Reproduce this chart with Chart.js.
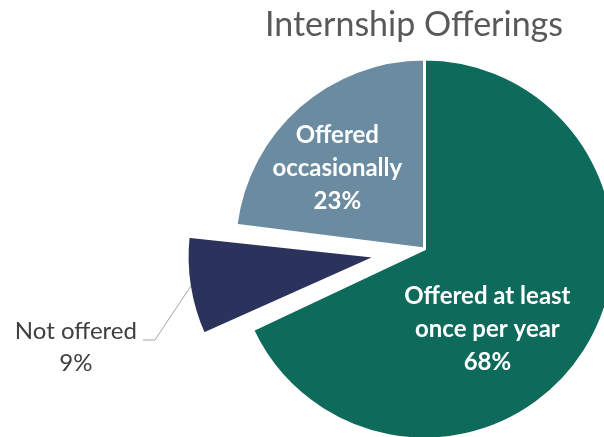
<!DOCTYPE html>
<html><head><meta charset="utf-8">
<script src="https://cdn.jsdelivr.net/npm/chart.js@4/dist/chart.umd.min.js"></script>
<style>html,body{margin:0;padding:0;background:#fff;overflow:hidden}#wrap{width:604px;height:437px;position:relative}</style>
</head><body><div id="wrap"><canvas id="c" width="604" height="437"></canvas></div>
<script>
const titleText = 'Internship Offerings';
const categories = ['Offered at least once per year', 'Not offered', 'Offered occasionally'];
const labelLines = [['Offered at least', 'once per year'], ['Not offered'], ['Offered', 'occasionally']];
const values = [68, 9, 23];
const colors = ['#0e6a5a', '#2b325b', '#6b8ca0'];
const explodedCategory = 'Not offered';

const FONT = 'Lato';
const DEG = Math.PI / 180;
// label placement styles (not data)
const labelStyles = [
  { kind: 'inside', angleShift: 19.6 * DEG, rFrac: 0.538, color: '#ffffff', weight: 'bold', size: 24, lineH: 33 },
  { kind: 'callout', elbowDx: -36, elbowDy: 54, tailLen: 12, gap: 6, textDy: 7.7, color: '#404040', weight: 'normal', size: 24, lineH: 32, lineColor: '#a6a6a6' },
  { kind: 'inside', angleShift: -5.9 * DEG, rFrac: 0.624, color: '#ffffff', weight: 'bold', size: 24, lineH: 33 }
];

function radiusGrowth(arc) {
  const off = (arc.options.offset || 0) / 4;
  return off * (1 - Math.sin(Math.min(Math.PI, arc.circumference || 0)));
}

// Excel-style explode: keep the exploded slice at the same radius as the others
const keepRadius = {
  id: 'keepRadius',
  afterDatasetUpdate(chart, args) {
    const meta = chart.getDatasetMeta(args.index);
    meta.data.forEach(arc => {
      if (arc.options && arc.options.offset) arc.outerRadius -= radiusGrowth(arc);
    });
  }
};

const sliceLabels = {
  id: 'sliceLabels',
  afterDatasetsDraw(chart) {
    const meta = chart.getDatasetMeta(0);
    const ctx = chart.ctx;
    const total = values.reduce((a, b) => a + b, 0);
    meta.data.forEach((arc, i) => {
      const p = arc.getProps(['x', 'y', 'startAngle', 'endAngle', 'outerRadius', 'circumference'], true);
      const o = arc.options;
      const mid = (p.startAngle + p.endAngle) / 2;
      const shift = (o.offset || 0) / 4;
      const drawR = p.outerRadius + radiusGrowth(arc);
      const cx = p.x + Math.cos(mid) * shift;
      const cy = p.y + Math.sin(mid) * shift;
      const st = labelStyles[i];
      const lines = [...labelLines[i], Math.round(values[i] / total * 100) + '%'];
      ctx.save();
      ctx.font = `${st.weight} ${st.size}px ${FONT}`;
      ctx.fillStyle = st.color;
      ctx.textBaseline = 'middle';
      ctx.textAlign = 'center';
      let tx, ty;
      if (st.kind === 'inside') {
        const a = mid + st.angleShift;
        const r = drawR * st.rFrac;
        tx = cx + Math.cos(a) * r;
        ty = cy + Math.sin(a) * r;
      } else {
        const er = drawR - (o.borderWidth || 0) / 2;
        const ex = cx + Math.cos(mid) * er;
        const ey = cy + Math.sin(mid) * er;
        const bx = ex + st.elbowDx, by = ey + st.elbowDy;
        const endX = bx - st.tailLen;
        ctx.strokeStyle = st.lineColor;
        ctx.lineWidth = 1;
        ctx.beginPath();
        ctx.moveTo(ex, ey);
        ctx.lineTo(bx, by);
        ctx.lineTo(endX, by);
        ctx.stroke();
        const maxW = Math.max(...lines.map(l => ctx.measureText(l).width));
        tx = endX - st.gap - maxW / 2;
        ty = by + st.textDy;
      }
      const n = lines.length;
      lines.forEach((l, k) => {
        ctx.fillText(l, tx, ty + (k - (n - 1) / 2) * st.lineH);
      });
      ctx.restore();
    });
  }
};

new Chart(document.getElementById('c'), {
  type: 'pie',
  data: {
    labels: categories,
    datasets: [{
      data: values,
      backgroundColor: colors,
      borderColor: '#ffffff',
      borderWidth: 3,
      radius: 190,
      clip: false,
      offset: (c) => categories[c.dataIndex] === explodedCategory ? 192 : 0
    }]
  },
  options: {
    responsive: false,
    animation: false,
    devicePixelRatio: 1,
    radius: 190,
    layout: { padding: { left: 265, right: 20, top: 0, bottom: 0 } },
    plugins: {
      legend: { display: false },
      tooltip: { enabled: false },
      title: {
        display: true,
        text: titleText,
        align: 'start',
        color: '#595959',
        font: { family: FONT, size: 34, weight: 'normal', lineHeight: 1 },
        padding: { top: 8, bottom: 19 }
      }
    }
  },
  plugins: [keepRadius, sliceLabels]
});
</script>
</body></html>
